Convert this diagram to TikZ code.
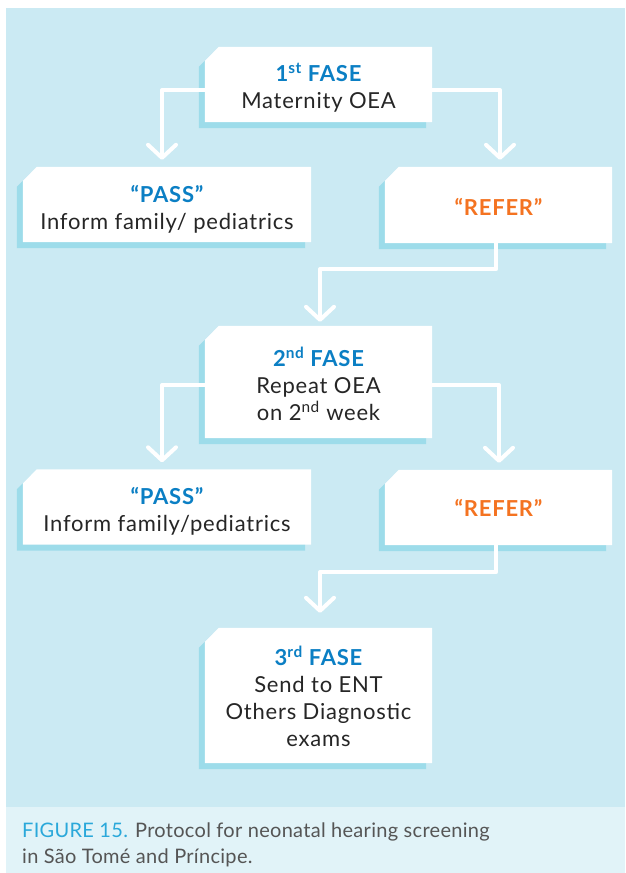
\documentclass[tikz,border=0pt]{standalone}
\usepackage{fontspec}
\setmainfont{Lato}
\newfontfamily\boxfont{Lato}[LetterSpace=3.5]
\newfontfamily\capfont{Lato}[LetterSpace=1.5]
\usetikzlibrary{calc,arrows.meta,backgrounds}
\definecolor{bgc}{HTML}{CBEAF3}
\definecolor{capc}{HTML}{E1F3F8}
\definecolor{shadc}{HTML}{9DDCEA}
\definecolor{blu}{HTML}{0B7FC4}
\definecolor{ora}{HTML}{F47321}
\definecolor{txt}{HTML}{262626}
\definecolor{capblue}{HTML}{2AA8DA}
\definecolor{capgray}{HTML}{555555}
\newcommand\cardpath[1]{(#1.south west) -- ($(#1.north west)+(0,14)$) -- ($(#1.north west)+(14,0)$) -- (#1.north east) -- (#1.south east) -- cycle}
\newcommand\card[1]{%
  \begin{scope}[transform canvas={shift={(-6pt,-6pt)}}]\fill[shadc] \cardpath{#1};\end{scope}
  \fill[white] \cardpath{#1};}
\begin{document}
\begin{tikzpicture}[x=1pt,y=-1pt,
  cardbox/.style={rectangle, inner sep=0pt},
  smallbox/.style={cardbox, minimum width=227pt},
  widebox/.style={cardbox, minimum width=288pt},
  label text/.style={inner sep=0pt, align=center, text=txt, font=\boxfont\fontsize{22}{27}\selectfont},
  arr/.style={draw=white, line width=4pt, line cap=round, line join=round, -{Straight Barb[length=13pt,width=28pt,round]}}]
\useasboundingbox (0,0) rectangle (625,873);
% card nodes
\node[smallbox, minimum height=75pt] (f1) at (318.5,84.5) {};
\node[widebox, minimum height=75pt] (p1) at (167,204.5) {};
\node[smallbox, minimum height=76pt] (r1) at (498.5,205) {};
\node[smallbox, minimum height=112pt] (f2) at (318.5,382) {};
\node[widebox, minimum height=75pt] (p2) at (167,507) {};
\node[smallbox, minimum height=75pt] (r2) at (498.5,507.5) {};
\node[smallbox, minimum height=135pt] (f3) at (318.5,695.5) {};
% texts
\node[label text] (f1t) at ($(f1.center)+(0,3)$)
  {{\bfseries\color{blu}1\textsuperscript{st} FASE}\\Maternity OEA};
\node[label text] (p1t) at ($(p1.center)+(0,5)$)
  {{\bfseries\color{blu}“PASS”}\\Inform family/ pediatrics};
\node[label text] (r1t) at ($(r1.center)+(0,1.5)$)
  {{\bfseries\color{ora}“REFER”}};
\node[label text] (f2t) at ($(f2.center)+(0,2)$)
  {{\bfseries\color{blu}2\textsuperscript{nd} FASE}\\Repeat OEA\\on 2\textsuperscript{nd} week};
\node[label text] (p2t) at ($(p2.center)+(0,4)$)
  {{\bfseries\color{blu}“PASS”}\\Inform family/pediatrics};
\node[label text] (r2t) at (r2.center)
  {{\bfseries\color{ora}“REFER”}};
\node[label text] (f3t) at ($(f3.center)+(0,1)$)
  {{\bfseries\color{blu}3\textsuperscript{rd} FASE}\\Send to ENT\\Others Diagnostic\\exams};
\node[anchor=north west, align=left, inner sep=0pt, text=capgray, font=\capfont\fontsize{20}{26}\selectfont] (cap) at (22,822.5)
  {{\color{capblue}FIGURE 15.} Protocol for neonatal hearing screening\\in São Tomé and Príncipe.};
% background and cards
\begin{pgfonlayer}{background}
\fill[bgc] (6,8) rectangle (625,807);
\fill[capc] (6,807) rectangle (625,873);
\card{f1}\card{p1}\card{r1}\card{f2}\card{p2}\card{r2}\card{f3}
\end{pgfonlayer}
% connectors
\draw[arr] ($(f1.west)+(0,5.5)$) -| ($(p1.north)+(-5,-7)$);
\draw[arr] ($(f1.east)+(0,5.5)$) -| ($(r1.north)+(1.5,-7)$);
\draw[arr] ($(r1.south)+(-2.5,0)$) -- ++(0,26) -| ($(f2.north)+(1.5,-4)$);
\draw[arr] ($(f2.west)+(0,3)$) -| ($(p2.north)+(-5,-7)$);
\draw[arr] ($(f2.east)+(0,3)$) -| ($(r2.north)+(0.5,-7)$);
\draw[arr] ($(r2.south)+(-2.5,0)$) -- ++(0,27) -| ($(f3.north)+(1.5,-15)$);
\end{tikzpicture}
\end{document}
